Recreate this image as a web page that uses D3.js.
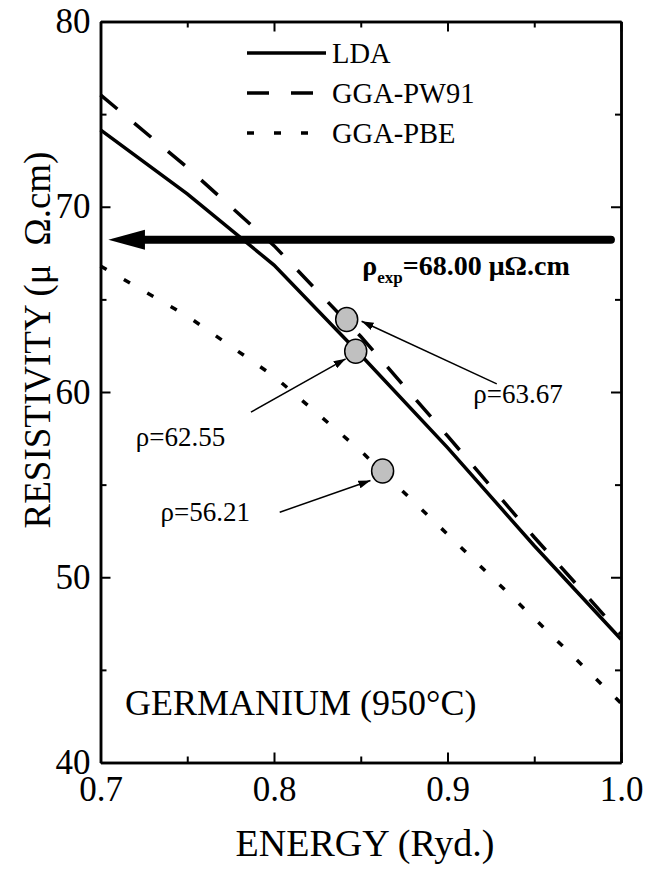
<!DOCTYPE html>
<html>
<head>
<meta charset="utf-8">
<script src="https://cdn.jsdelivr.net/npm/d3@7"></script>
<style>
  body { margin: 0; background: #fff; }
</style>
</head>
<body>
<div id="chart"></div>
<script>
// resistivity of liquid germanium vs energy, three exchange-correlation choices

var energy = [0.70, 0.75, 0.80, 0.85, 0.90, 0.95, 1.00];
var lda  = [74.15, 70.7, 66.85, 62.0, 57.0, 51.7, 46.65];
var pw91 = [76.04, 72.12, 67.9, 63.0, 57.63, 52.16, 46.93];
var pbe  = [66.8, 64.1, 60.85, 56.82, 52.32, 47.78, 43.2];

var seriesNames = ["LDA", "GGA-PW91", "GGA-PBE"];

// grey markers where each curve meets the experimental value
var markE = [0.8419, 0.8471, 0.8626];
var markR = [63.91, 62.2, 55.73];
var markLabels = ["\u03c1=63.67", "\u03c1=62.55", "\u03c1=56.21"];
var labelE = [0.9149, 0.7203, 0.7346];
var labelR = [59.38, 57.1, 53.06];
var tailE = [0.9284, 0.7867, 0.8033];
var tailR = [60.44, 58.91, 53.51];
var tipE = [0.8505, 0.8413, 0.8556];
var tipR = [63.82, 61.79, 55.22];

// experimental value arrow
var expLevel = 68.22;
var expArrowE = [0.7045, 0.7256, 0.9942]; // tip, head base, tail
var expLabelE = 0.8509, expLabelR = 66.29;

var xMajor = [0.7, 0.8, 0.9, 1.0];
var xMinor = [0.75, 0.85, 0.95];
var yMajor = [40, 50, 60, 70, 80];
var yMinor = [45, 55, 65, 75];

var W = 645, H = 871;
var serif = "'Liberation Serif', 'Times New Roman', Times, serif";
var x = d3.scaleLinear().domain([0.7, 1.0]).range([100.5, 621]);
var y = d3.scaleLinear().domain([40, 80]).range([762.5, 21.5]);

var svg = d3.select("#chart").append("svg")
  .attr("width", W)
  .attr("height", H)
  .attr("font-family", serif);

var defs = svg.append("defs");
defs.append("marker")
  .attr("id", "head")
  .attr("viewBox", "0 0 12 8")
  .attr("refX", 12).attr("refY", 4)
  .attr("markerWidth", 12).attr("markerHeight", 8)
  .attr("markerUnits", "userSpaceOnUse")
  .attr("orient", "auto")
  .append("path")
  .attr("d", "M0,0L12,4L0,8Z")
  .attr("fill", "#000");

// axes, ticks inward on all four sides
function styleAxis(g, w) {
  g.attr("font-family", serif).attr("font-size", 35);
  g.select(".domain").attr("stroke-width", 2.5);
  g.selectAll(".tick line").attr("stroke-width", w);
  g.selectAll(".tick text").attr("fill", "#000");
}

var fmtX = d3.format(".1f");
svg.append("g").attr("transform", "translate(0," + y(40) + ")")
  .call(d3.axisBottom(x).tickValues(xMajor).tickSize(-10).tickSizeOuter(0).tickPadding(14).tickFormat(fmtX))
  .call(styleAxis, 2);
svg.append("g").attr("transform", "translate(0," + y(40) + ")")
  .call(d3.axisBottom(x).tickValues(xMinor).tickSize(-6).tickSizeOuter(0).tickFormat(""))
  .call(styleAxis, 2);
svg.append("g").attr("transform", "translate(0," + y(80) + ")")
  .call(d3.axisTop(x).tickValues(xMajor).tickSize(-10).tickSizeOuter(0).tickFormat(""))
  .call(styleAxis, 2);
svg.append("g").attr("transform", "translate(0," + y(80) + ")")
  .call(d3.axisTop(x).tickValues(xMinor).tickSize(-6).tickSizeOuter(0).tickFormat(""))
  .call(styleAxis, 2);

svg.append("g").attr("transform", "translate(" + x(0.7) + ",0)")
  .call(d3.axisLeft(y).tickValues(yMajor).tickSize(-10).tickSizeOuter(0).tickPadding(10))
  .call(styleAxis, 2);
svg.append("g").attr("transform", "translate(" + x(0.7) + ",0)")
  .call(d3.axisLeft(y).tickValues(yMinor).tickSize(-6).tickSizeOuter(0).tickFormat(""))
  .call(styleAxis, 2);
svg.append("g").attr("transform", "translate(" + x(1.0) + ",0)")
  .call(d3.axisRight(y).tickValues(yMajor).tickSize(-10).tickSizeOuter(0).tickFormat(""))
  .call(styleAxis, 2);
svg.append("g").attr("transform", "translate(" + x(1.0) + ",0)")
  .call(d3.axisRight(y).tickValues(yMinor).tickSize(-6).tickSizeOuter(0).tickFormat(""))
  .call(styleAxis, 2);

// axis titles
svg.append("text")
  .attr("x", 365)
  .attr("y", 856)
  .attr("text-anchor", "middle")
  .attr("font-size", 38)
  .text("ENERGY (Ryd.)");

svg.append("text")
  .attr("transform", "translate(50,340)rotate(-90)")
  .attr("text-anchor", "middle")
  .attr("font-size", 37)
  .text("RESISTIVITY (\u03bc\u00a0\u00a0\u03a9.cm)");

// curves
var line = d3.line()
  .x(function(d) { return x(d[0]); })
  .y(function(d) { return y(d[1]); });

var curves = [
  { values: lda,  dash: null },
  { values: pw91, dash: "22,22" },
  { values: pbe,  dash: "7,20" }
];

svg.selectAll(".curve")
  .data(curves)
  .enter().append("path")
  .attr("class", "curve")
  .attr("d", function(c) { return line(energy.map(function(e, i) { return [e, c.values[i]]; })); })
  .attr("fill", "none")
  .attr("stroke", "#000")
  .attr("stroke-width", 3.5)
  .attr("stroke-dasharray", function(c) { return c.dash; });

// legend
var legend = svg.append("g");
seriesNames.forEach(function(name, i) {
  var ly = 53 + i * 40;
  legend.append("line")
    .attr("x1", 247).attr("x2", 326)
    .attr("y1", ly).attr("y2", ly)
    .attr("stroke", "#000")
    .attr("stroke-width", 3.5)
    .attr("stroke-dasharray", curves[i].dash);
  legend.append("text")
    .attr("x", 332)
    .attr("y", ly + 10)
    .attr("font-size", 28.5)
    .text(name);
});

// experimental arrow
svg.append("line")
  .attr("x1", x(expArrowE[2])).attr("x2", x(expArrowE[1]))
  .attr("y1", y(expLevel)).attr("y2", y(expLevel))
  .attr("stroke", "#000")
  .attr("stroke-width", 8)
  .attr("stroke-linecap", "round");
svg.append("path")
  .attr("d", "M" + x(expArrowE[0]) + "," + y(expLevel) +
             "L" + x(expArrowE[1]) + "," + (y(expLevel) - 10) +
             "L" + x(expArrowE[1]) + "," + (y(expLevel) + 10) + "Z")
  .attr("fill", "#000");

var expText = svg.append("text")
  .attr("x", x(expLabelE))
  .attr("y", y(expLabelR))
  .attr("font-size", 28)
  .attr("font-weight", "bold");
expText.append("tspan").text("\u03c1");
expText.append("tspan").attr("dy", 8).attr("font-size", 17).text("exp");
expText.append("tspan").attr("dy", -8).text("=68.00 \u03bc\u03a9.cm");

// annotation arrows and markers
svg.selectAll(".pointer")
  .data(markE)
  .enter().append("line")
  .attr("class", "pointer")
  .attr("x1", function(d, i) { return x(tailE[i]); })
  .attr("y1", function(d, i) { return y(tailR[i]); })
  .attr("x2", function(d, i) { return x(tipE[i]); })
  .attr("y2", function(d, i) { return y(tipR[i]); })
  .attr("stroke", "#000")
  .attr("stroke-width", 1.5)
  .attr("marker-end", "url(#head)");

svg.selectAll(".mark")
  .data(markE)
  .enter().append("ellipse")
  .attr("class", "mark")
  .attr("cx", function(d) { return x(d); })
  .attr("cy", function(d, i) { return y(markR[i]); })
  .attr("rx", 11)
  .attr("ry", 12)
  .attr("fill", "#c0c0c0")
  .attr("stroke", "#000")
  .attr("stroke-width", 1.5);

svg.selectAll(".mlabel")
  .data(markLabels)
  .enter().append("text")
  .attr("class", "mlabel")
  .attr("x", function(d, i) { return x(labelE[i]); })
  .attr("y", function(d, i) { return y(labelR[i]); })
  .attr("font-size", 27)
  .text(function(d) { return d; });

svg.append("text")
  .attr("x", 125)
  .attr("y", 715)
  .attr("font-size", 36)
  .text("GERMANIUM (950\u00b0C)");
</script>
</body>
</html>
